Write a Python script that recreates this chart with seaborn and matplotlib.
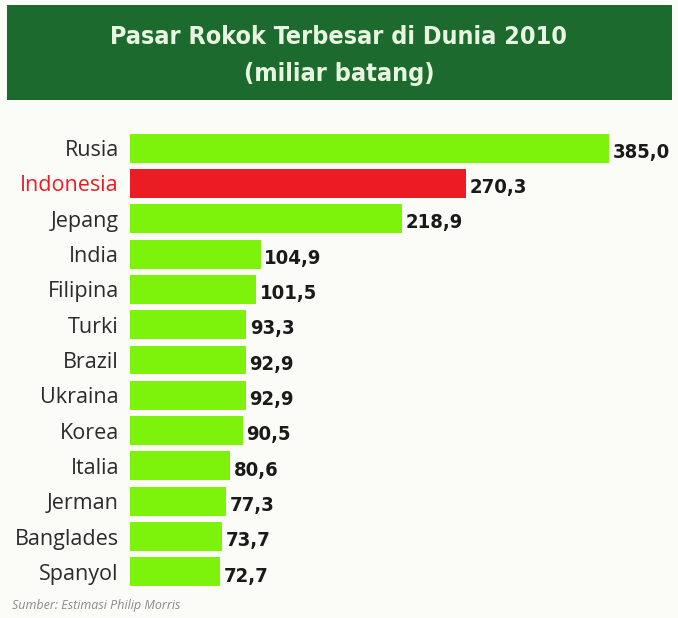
import matplotlib
matplotlib.use("Agg")
import matplotlib.pyplot as plt
import seaborn as sns
import pandas as pd
from matplotlib.patches import Rectangle
from matplotlib import font_manager

countries = ["Rusia", "Indonesia", "Jepang", "India", "Filipina", "Turki", "Brazil",
             "Ukraina", "Korea", "Italia", "Jerman", "Banglades", "Spanyol"]
values = [385.0, 270.3, 218.9, 104.9, 101.5, 93.3, 92.9, 92.9, 90.5, 80.6, 77.3, 73.7, 72.7]
value_labels = ["385,0", "270,3", "218,9", "104,9", "101,5", "93,3", "92,9",
                "92,9", "90,5", "80,6", "77,3", "73,7", "72,7"]
highlight = "Indonesia"

GREEN = "#7df20a"
RED = "#ec1c24"
BANNER = "#1d6a2f"
BG = "#fbfcf7"

df = pd.DataFrame({"negara": countries, "nilai": values})
palette = {c: (RED if c == highlight else GREEN) for c in countries}

sns.set_theme(style="white")
plt.rcParams["font.family"] = ["Open Sans", "DejaVu Sans"]

installed = {f.name for f in font_manager.fontManager.ttflist}
narrow = "Liberation Sans Narrow" if "Liberation Sans Narrow" in installed else "DejaVu Sans"
narrow_kw = dict(family=[narrow, "DejaVu Sans"], fontstretch="condensed")

W, H = 678, 618
fig = plt.figure(figsize=(W / 100, H / 100), dpi=100, facecolor=BG)

# title banner
fig.patches.append(Rectangle((7 / W, 1 - 100 / H), 665 / W, 95 / H,
                             transform=fig.transFigure, facecolor=BANNER,
                             edgecolor="none", zorder=0))
fig.text(0.5, 1 - 37 / H, "Pasar Rokok Terbesar di Dunia 2010", ha="center", va="center",
         color="#e8f5e0", fontsize=18, fontweight="bold", **narrow_kw)
fig.text(0.5, 1 - 74 / H, "(miliar batang)", ha="center", va="center",
         color="#e8f5e0", fontsize=18, fontweight="bold", **narrow_kw)

left, right = 130, 668
top, bottom = 130.4, 589.6
ax = fig.add_axes([left / W, 1 - bottom / H, (right - left) / W, (bottom - top) / H])
ax.set_facecolor("none")

sns.barplot(data=df, y="negara", x="nilai", hue="negara", palette=palette,
            order=countries, orient="h", width=0.82, legend=False, ax=ax,
            saturation=1, edgecolor="none")

ax.set_xlim(0, 385.0 * (right - left) / (609 - left))
ax.set_ylim(len(countries) - 0.5, -0.5)
for s in ax.spines.values():
    s.set_visible(False)
ax.set_xticks([])
ax.set_xlabel("")
ax.set_ylabel("")
ax.tick_params(axis="y", length=0, pad=8)
ax.set_yticks(range(len(countries)))
ax.set_yticklabels(countries, fontsize=15.5)
for lbl in ax.get_yticklabels():
    lbl.set_color(RED if lbl.get_text() == highlight else "#2b2b2b")

for i, (v, t) in enumerate(zip(values, value_labels)):
    ax.text(v + 3, i + 0.12, t, ha="left", va="center", fontsize=14.5,
            fontweight="bold", color="#1a1a1a", **narrow_kw)

fig.text(12 / W, 1 - 605 / H, "Sumber: Estimasi Philip Morris", ha="left", va="center",
         fontsize=9, style="italic", color="#8a8a8a")

fig.savefig("out.png", dpi=100, facecolor=BG)
